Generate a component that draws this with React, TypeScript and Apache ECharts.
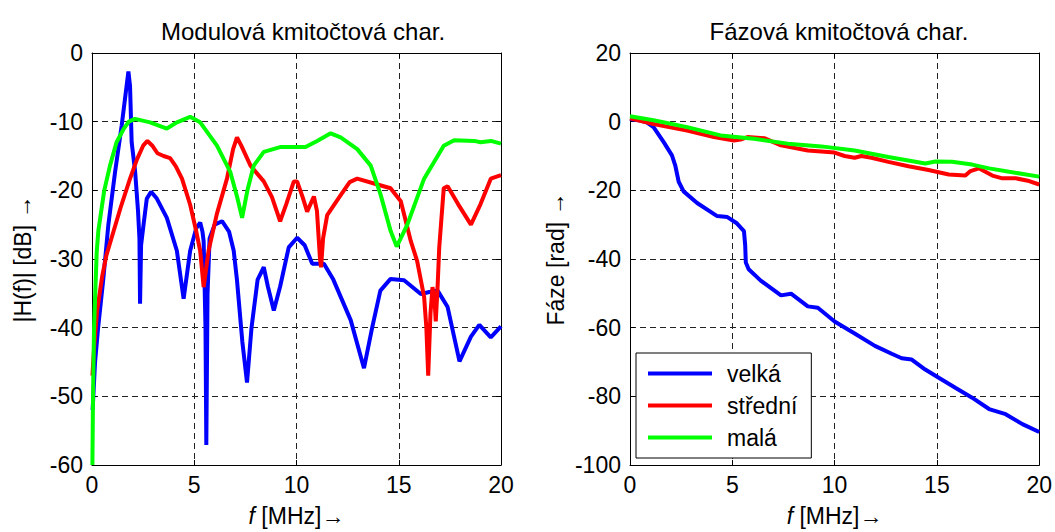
import React, { useEffect, useRef } from "react";
import * as echarts from "echarts";

// ---- Data ----
const xTicks = [0, 5, 10, 15, 20];

// Magnitude response |H(f)| [dB]
const magVelkaF = [0.03, 0.15, 0.3, 0.55, 0.8, 1.13, 1.45, 1.67, 1.78, 1.86, 1.94, 2.11, 2.25, 2.32, 2.35, 2.4, 2.52, 2.68, 2.89, 3.17, 3.66, 4.15, 4.48, 4.8, 5.1, 5.29, 5.4, 5.46, 5.55, 5.59, 5.65, 5.75, 6.0, 6.36, 6.7, 6.93, 7.09, 7.35, 7.58, 7.8, 8.1, 8.4, 8.6, 8.89, 9.2, 9.62, 10.03, 10.4, 10.77, 11.34, 11.8, 12.65, 13.3, 13.7, 14.1, 14.6, 15.26, 16.08, 16.5, 16.9, 17.39, 17.97, 18.53, 18.94, 19.5, 20];
const magVelkaDb = [-52, -45, -40, -33, -25, -17.3, -10.6, -5.3, -2.7, -4.8, -13, -17.3, -23, -27, -36.5, -28, -25, -21.2, -20.2, -21.2, -24, -28.8, -35.8, -28.8, -25.5, -24.7, -26, -27.4, -40, -57.1, -35, -27, -25, -24.5, -26, -28.8, -33.1, -42, -48, -40, -33, -31.2, -34, -37.5, -34, -28.3, -26.9, -28, -30.7, -30.7, -33, -38.9, -45.9, -40, -34.6, -32.9, -33.1, -35.1, -34.8, -34.6, -37, -44.9, -41.3, -39.6, -41.4, -39.8];

const magStredniF = [0.02, 0.1, 0.25, 0.5, 0.7, 1.0, 1.4, 1.86, 2.2, 2.5, 2.71, 2.95, 3.2, 3.5, 3.82, 4.1, 4.4, 4.8, 5.1, 5.29, 5.46, 5.6, 5.7, 6.1, 6.6, 6.9, 7.09, 7.3, 7.75, 8.4, 8.8, 9.2, 9.5, 9.87, 10.03, 10.3, 10.52, 10.85, 11.0, 11.15, 11.2, 11.3, 11.5, 12.16, 12.6, 12.97, 13.79, 14.6, 15.1, 15.59, 15.9, 16.24, 16.35, 16.44, 16.55, 16.65, 16.75, 16.81, 16.9, 16.98, 17.2, 17.39, 17.9, 18.53, 19.0, 19.5, 20];
const magStredniDb = [-47, -43, -37.5, -32.5, -29.5, -26.5, -22.5, -18.3, -15.5, -13.5, -12.8, -13.5, -14.6, -15, -15.3, -16.5, -18.3, -22.1, -26, -28.8, -34.1, -31, -28.8, -23.5, -18.3, -14, -12.3, -13.5, -16.4, -18.7, -21, -24.5, -22, -18.7, -18.7, -21, -23.1, -20.9, -23, -30, -31.2, -27, -23.6, -20.7, -18.8, -18.3, -19, -19.7, -21.6, -27.4, -30.3, -35.5, -40, -47, -38, -34.1, -36, -39.1, -34, -28.3, -19.7, -19.4, -22, -25, -22, -18.3, -17.8];

const magMalaF = [0.02, 0.05, 0.1, 0.23, 0.31, 0.6, 0.88, 1.2, 1.54, 1.8, 2.1, 2.84, 3.66, 4.15, 4.8, 5.29, 6.11, 6.76, 7.1, 7.34, 7.6, 7.91, 8.4, 9.2, 10.44, 11.01, 11.67, 12.16, 12.97, 13.63, 14.12, 14.6, 14.9, 15.42, 16.24, 17.2, 17.71, 18.69, 19.0, 19.5, 20];
const magMalaDb = [-60, -50, -40, -29, -25.9, -20, -16.4, -13, -11.1, -10, -9.6, -10.1, -11, -10.1, -9.3, -10.1, -13.5, -17.3, -21, -24, -20, -16.4, -14.4, -13.7, -13.7, -12.8, -11.7, -12.3, -14, -16.4, -20.7, -25.9, -28.2, -25, -18.3, -13.5, -12.7, -12.8, -13, -12.8, -13.2];

// Phase response [rad]
const phVelkaF = [0, 0.5, 0.82, 1.15, 1.64, 2.05, 2.21, 2.38, 2.62, 3.28, 4.26, 4.76, 5.2, 5.57, 5.63, 5.66, 5.8, 6.39, 7.38, 7.87, 8.69, 9.18, 10, 10.98, 11.97, 12.79, 13.28, 13.77, 14.43, 15.09, 15.9, 16.72, 17.55, 18.36, 19.18, 20];
const phVelka = [0.8, 0.3, -0.2, -1.6, -5.9, -9.8, -12.7, -17.5, -20.3, -23.7, -27.5, -27.8, -29.5, -31.9, -36, -41, -43, -46.3, -50.6, -50.1, -53.8, -54.2, -58.2, -61.7, -65.3, -67.6, -68.9, -69.3, -72.2, -74.6, -77.5, -80.4, -83.7, -85.2, -88.1, -90.4];

const phStredniF = [0, 1.15, 2.79, 4.1, 5.08, 5.4, 5.74, 6.56, 7.38, 8.69, 9.35, 10, 10.49, 10.98, 11.31, 11.8, 12.63, 13.61, 14.59, 15.58, 16.39, 16.64, 17.05, 17.71, 18.2, 18.85, 19.51, 20];
const phStredni = [1, -0.7, -2.6, -4.5, -5.5, -5.2, -4.5, -4.8, -6.9, -8.4, -8.7, -9, -10, -10.5, -10, -10.5, -11.7, -13, -14.1, -15.4, -15.7, -14.4, -13.6, -15.7, -16.5, -16.5, -17.3, -18.3];

const phMalaF = [0, 1.15, 2.79, 4.43, 6.06, 7.71, 9.35, 10.98, 12.63, 14.43, 14.93, 15.74, 16.72, 17.55, 18.53, 20];
const phMala = [1.6, 0.4, -1.6, -4, -5, -6.4, -7.2, -8.4, -10.3, -12.2, -11.6, -11.7, -12.5, -13.6, -14.6, -16];

const seriesNames = ["velká", "střední", "malá"];
const seriesColors = ["#0000ff", "#ff0000", "#00ff00"];

const zip = (xs: number[], ys: number[]) => xs.map((x, i) => [x, ys[i]]);

const FONT = "'Liberation Sans', Arial, Helvetica, sans-serif";
const FS = 23;

export default function App() {
  const ref = useRef<HTMLDivElement>(null);

  useEffect(() => {
    if (!ref.current) return;
    const chart = echarts.init(ref.current, undefined, { renderer: "svg" });

    const mkX = (gridIndex: number, name: string) => [
      {
        gridIndex,
        type: "value",
        min: xTicks[0],
        max: xTicks[xTicks.length - 1],
        interval: xTicks[1] - xTicks[0],
        position: "bottom",
        axisLine: { show: true, onZero: false, lineStyle: { color: "#000", width: 1 } },
        axisTick: { show: true, inside: true, length: 5, lineStyle: { color: "#000" } },
        axisLabel: { color: "#000", fontSize: FS, fontFamily: FONT, margin: 8 },
        splitLine: { show: true, lineStyle: { type: [6, 4], color: "#222", width: 1 } },
        name,
        nameLocation: "middle",
        nameGap: 39,
        nameTextStyle: {
          color: "#000",
          fontSize: FS,
          fontFamily: FONT,
          rich: { i: { fontStyle: "italic", fontSize: FS, fontFamily: FONT, color: "#000" } },
        },
      },
      {
        gridIndex,
        type: "value",
        min: xTicks[0],
        max: xTicks[xTicks.length - 1],
        interval: xTicks[1] - xTicks[0],
        position: "top",
        axisLine: { show: true, onZero: false, lineStyle: { color: "#000", width: 1 } },
        axisTick: { show: true, inside: true, length: 5, lineStyle: { color: "#000" } },
        axisLabel: { show: false },
        splitLine: { show: false },
      },
    ];

    const mkY = (gridIndex: number, min: number, max: number, interval: number, name: string, gap: number) => [
      {
        gridIndex,
        type: "value",
        min,
        max,
        interval,
        position: "left",
        axisLine: { show: true, onZero: false, lineStyle: { color: "#000", width: 1 } },
        axisTick: { show: true, inside: true, length: 5, lineStyle: { color: "#000" } },
        axisLabel: { color: "#000", fontSize: FS, fontFamily: FONT, margin: 9 },
        splitLine: { show: true, lineStyle: { type: [6, 4], color: "#222", width: 1 } },
        name,
        nameLocation: "middle",
        nameGap: gap,
        nameTextStyle: { color: "#000", fontSize: FS, fontFamily: FONT },
      },
      {
        gridIndex,
        type: "value",
        min,
        max,
        interval,
        position: "right",
        axisLine: { show: true, onZero: false, lineStyle: { color: "#000", width: 1 } },
        axisTick: { show: true, inside: true, length: 5, lineStyle: { color: "#000" } },
        axisLabel: { show: false },
        splitLine: { show: false },
      },
    ];

    const lineSeries = (name: string, color: string, xIdx: number, yIdx: number, data: number[][]) => ({
      name,
      type: "line",
      xAxisIndex: xIdx,
      yAxisIndex: yIdx,
      data,
      showSymbol: false,
      symbol: "none",
      smooth: false,
      lineStyle: { color, width: 4 },
      itemStyle: { color },
      z: 3,
    });

    const magData = [zip(magVelkaF, magVelkaDb), zip(magStredniF, magStredniDb), zip(magMalaF, magMalaDb)];
    const phData = [zip(phVelkaF, phVelka), zip(phStredniF, phStredni), zip(phMalaF, phMala)];

    const option: any = {
      animation: false,
      backgroundColor: "#ffffff",
      textStyle: { fontFamily: FONT },
      title: [
        {
          text: "Modulová kmitočtová char.",
          left: 298,
          top: 14,
          textAlign: "center",
          textStyle: { fontSize: 24, fontWeight: "normal", color: "#000", fontFamily: FONT },
        },
        {
          text: "Fázová kmitočtová char.",
          left: 834,
          top: 14,
          textAlign: "center",
          textStyle: { fontSize: 24, fontWeight: "normal", color: "#000", fontFamily: FONT },
        },
      ],
      grid: [
        { left: 92, top: 53, width: 409, height: 417 },
        { left: 630, top: 53, width: 410, height: 417 },
      ],
      xAxis: [...mkX(0, "{i|f} [MHz]→"), ...mkX(1, "{i|f} [MHz]→")],
      yAxis: [
        ...mkY(0, -60, 0, 10, "|H(f)| [dB] →", 58),
        ...mkY(1, -100, 20, 20, "Fáze [rad] →", 63),
      ],
      legend: {
        show: true,
        data: seriesNames,
        orient: "vertical",
        left: 636,
        top: 353,
        icon: "rect",
        itemWidth: 64,
        itemHeight: 4,
        itemGap: 9,
        padding: [9, 14, 9, 12],
        backgroundColor: "#fff",
        borderColor: "#000",
        borderWidth: 1,
        borderRadius: 0,
        textStyle: { fontSize: FS, color: "#000", fontFamily: FONT, padding: [0, 0, 0, 10] },
      },
      series: [
        ...seriesNames.map((n, i) => lineSeries(n, seriesColors[i], 0, 0, magData[i])),
        ...seriesNames.map((n, i) => lineSeries(n, seriesColors[i], 2, 2, phData[i])),
      ],
    };

    chart.setOption(option);
    return () => chart.dispose();
  }, []);

  return (
    <div
      ref={ref}
      style={{ position: "absolute", left: 0, top: 0, width: 1055, height: 532, background: "#fff" }}
    />
  );
}
